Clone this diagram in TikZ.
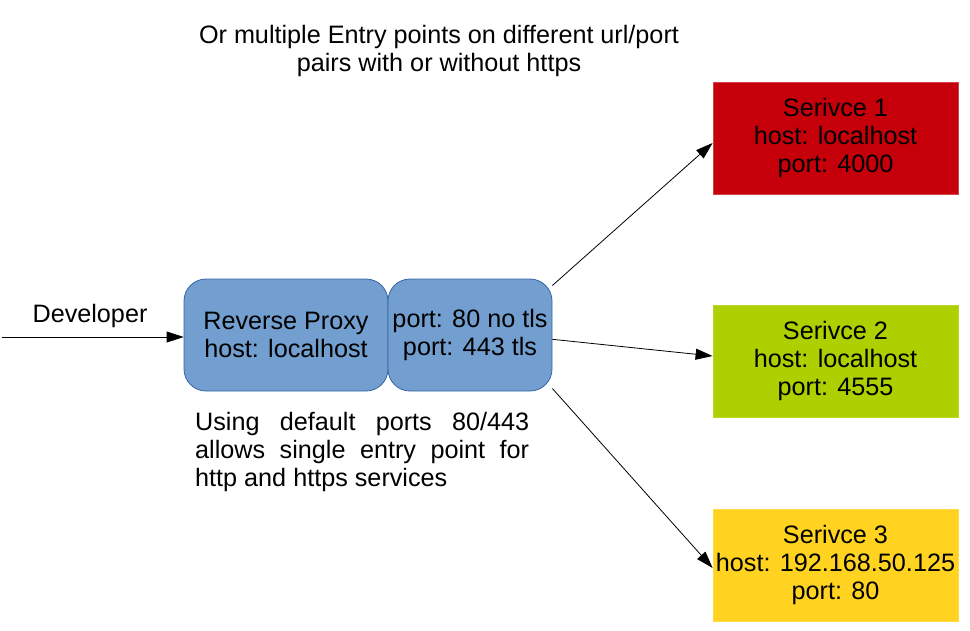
\documentclass[tikz,border=0pt]{standalone}
\usepackage{fontspec}
\setmainfont{Liberation Sans}
\usetikzlibrary{arrows.meta,calc}
\definecolor{proxyfill}{HTML}{729FCF}
\definecolor{proxyline}{HTML}{3465A4}
\definecolor{redfill}{HTML}{C5000B}
\definecolor{greenfill}{HTML}{AECF00}
\definecolor{goldfill}{HTML}{FFD320}
\tikzset{
  txt/.style={font=\fontsize{25.2}{28}\selectfont, inner sep=0pt},
  proxybox/.style={txt, align=center, draw=proxyline, fill=proxyfill, line width=0.8pt, rounded corners=22pt, minimum height=112pt},
  servicebox/.style={txt, align=center, minimum width=245pt, minimum height=112pt, line width=0.8pt},
  conn/.style={draw=black, line width=0.8pt, -{Triangle[length=17pt,width=11pt]}}
}
\begin{document}
\begin{tikzpicture}[x=1pt,y=-1pt]
\useasboundingbox (0,0) rectangle (970,630);
\node[txt, align=center, anchor=base] (title) at (439,71) {Or multiple Entry points on different url/port\\pairs with or without https};
\node[txt, anchor=base] (devlabel) at (90,322) {Developer};
\coordinate (dev) at (2,337);
\node[proxybox, minimum width=204pt] (rp) at (286,335) {Reverse Proxy\\host: localhost};
\node[proxybox, minimum width=164pt] (pb) at (470,335) {port: 80 no tls\\port: 443 tls};
\node[txt, anchor=base west, align=left] (note) at (195,486) {\hbox to 334pt{Using\hfill default\hfill ports\hfill 80/443}\\\hbox to 334pt{allows\hfill single\hfill entry\hfill point\hfill for}\\http and https services};
\node[servicebox, fill=redfill, draw=redfill!75!white] (s1) at (835.5,138) {Serivce 1\\host: localhost\\port: 4000};
\node[servicebox, fill=greenfill, draw=greenfill!85!white] (s2) at (835.5,361) {Serivce 2\\host: localhost\\port: 4555};
\node[servicebox, fill=goldfill, draw=goldfill!85!white] (s3) at (835.5,565) {Serivce 3\\host: 192.168.50.125\\port: 80};
\draw[conn] (dev) -- (dev -| rp.west);
\draw[conn] (pb.31) -- ($(s1.west)+(0,5)$);
\draw[conn] (pb.-3) -- ($(s2.west)+(0,-5)$);
\draw[conn] (pb.-33) -- ($(s3.west)+(0,3)$);
\end{tikzpicture}
\end{document}
